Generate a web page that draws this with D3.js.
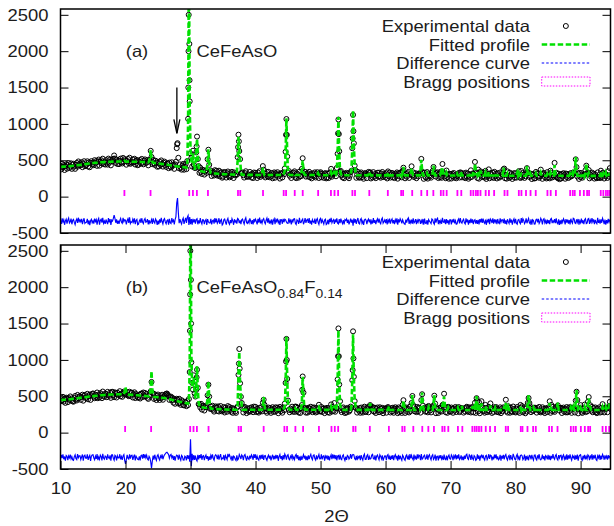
<!DOCTYPE html>
<html>
<head>
<meta charset="utf-8">
<script src="https://cdn.jsdelivr.net/npm/d3@7"></script>
<style>
  html, body { margin: 0; padding: 0; background: #fff; }
  svg { display: block; }
</style>
</head>
<body>
<script>
// ---- Rietveld refinement data: 2-theta sampled every 0.125 deg from 10.000 to 94.500 ----
// one line per degree (8 samples), last line 94.000 .. 94.500
const start2Theta = 10;
const step2Theta = 0.125;

const xTickValues = [10, 20, 30, 40, 50, 60, 70, 80, 90];
const yTickValues = [-500, 0, 500, 1000, 1500, 2000, 2500];
const diffOffset = -340;   // the difference curve is shifted down by this amount
const legendLabels = ["Experimental data", "Fitted profile", "Difference curve", "Bragg positions"];

// (a) CeFeAsO: fitted profile
const calcA = [
  410,411,411,412,412,413,414,414,
  415,416,417,418,420,421,422,424,
  425,427,428,430,431,433,434,436,
  437,439,440,442,444,445,447,448,
  450,452,453,455,456,458,459,461,
  462,463,464,465,466,467,468,469,
  470,471,472,473,474,474,475,476,
  477,477,478,478,479,479,480,480,
  481,481,481,482,482,482,482,483,
  483,483,483,483,483,483,483,493,
  482,482,482,482,481,481,481,481,
  480,480,480,479,479,479,478,478,
  478,477,477,476,476,476,475,475,
  474,474,473,473,472,486,531,640,
  522,481,465,464,462,461,460,459,
  457,455,454,452,451,449,448,446,
  445,443,441,440,438,436,434,432,
  430,428,426,424,423,421,419,417,
  415,414,413,412,410,409,408,406,
  405,403,400,398,435,990,3300,1250,
  635,502,459,596,452,369,426,583,
  790,557,405,355,353,350,348,346,
  342,340,338,336,375,483,651,459,
  357,325,324,323,322,320,319,317,
  316,315,314,314,313,312,311,310,
  309,309,308,308,307,307,306,306,
  305,305,304,304,304,303,303,303,
  302,332,502,822,652,501,361,301,
  300,300,300,300,300,300,300,299,
  299,299,299,299,299,299,299,298,
  298,298,298,298,298,298,298,297,
  317,397,332,297,297,297,297,297,
  297,297,297,297,297,297,297,297,
  297,297,297,297,297,297,297,297,
  297,297,297,317,357,597,1077,577,
  357,312,297,297,297,297,297,297,
  312,297,297,297,297,297,297,297,
  297,367,497,362,312,297,297,297,
  297,297,297,297,297,297,297,297,
  297,297,297,297,297,322,297,297,
  295,295,295,295,295,295,295,295,
  295,295,295,295,295,335,295,295,
  295,355,295,295,355,615,1095,595,
  365,315,295,295,295,295,295,295,
  294,294,294,294,294,294,374,644,
  1184,694,444,334,294,294,294,294,
  294,294,294,294,294,294,294,294,
  293,293,293,308,338,308,293,293,
  293,293,293,293,293,293,293,293,
  293,293,293,293,293,293,293,293,
  292,292,292,327,292,292,292,292,
  292,292,292,292,292,292,292,292,
  292,292,292,322,292,332,407,332,
  292,292,292,292,292,292,292,327,
  392,327,292,292,292,292,292,292,
  292,292,292,362,507,362,292,292,
  292,292,292,322,292,292,292,292,
  292,292,332,427,352,292,292,292,
  292,292,292,292,332,292,402,332,
  292,292,292,327,292,292,292,292,
  290,290,290,290,290,290,290,290,
  315,290,290,290,290,335,290,290,
  290,290,290,290,290,290,290,290,
  290,325,290,290,350,290,455,370,
  310,290,350,290,290,360,290,290,
  290,290,290,330,290,290,290,340,
  290,290,290,290,290,290,315,290,
  290,290,290,290,290,290,290,290,
  288,398,348,288,288,288,318,288,
  288,288,288,288,288,288,288,288,
  288,288,328,288,323,288,288,308,
  288,288,288,288,288,288,418,318,
  288,288,318,288,288,288,288,288,
  288,318,288,288,288,288,288,328,
  288,288,288,288,288,288,288,313,
  288,288,288,328,288,288,288,288,
  433,308,288,288,288,288,288,288,
  288,288,288,288,288,288,288,288,
  288,288,288,313,288,288,323,288,
  288,348,543,378,288,288,288,318,
  286,286,286,286,326,286,326,456,
  346,300,326,286,286,286,286,286,
  286,286,286,286,286,286,286,286,
  286,331,286,286,316,286,286,326,
  286,286,316,286,366
];
// (a) residual: observed minus fitted
const residA = [
  12,-35,40,-8,22,-47,5,31,
  -31,18,45,-22,-5,37,-40,14,
  27,-14,-46,9,33,-21,50,-3,
  20,-6,33,-37,11,42,-28,-15,
  -12,34,-40,15,-52,8,29,-19,
  6,-31,38,-3,24,-44,16,41,
  -44,11,29,-17,48,-26,3,-35,
  25,-9,-38,45,-13,30,-50,18,
  4,40,85,42,-19,27,-33,10,
  -36,13,40,-11,-27,49,-4,22,
  17,-43,8,36,-21,54,-30,-7,
  -15,31,-7,42,-38,12,26,-46,
  -39,5,26,-20,43,-9,-31,19,
  38,-12,-5,30,-42,16,-28,-10,
  24,-34,41,-6,-25,33,11,-48,
  9,-40,28,-16,47,-2,-35,21,
  37,-8,-32,11,20,-45,34,-18,
  -29,45,-3,17,-41,23,60,250,
  320,120,-24,32,-11,-38,19,44,
  -35,10,48,-20,55,80,-50,60,
  -40,30,-45,35,-15,28,-33,25,
  36,-40,15,-28,44,-9,-36,22,
  20,-37,10,26,-48,31,-6,-22,
  -22,34,-41,7,18,-30,45,-13,
  39,-26,-6,43,-34,12,27,-50,
  -34,22,31,-9,-45,16,40,-20,
  -40,18,-23,37,5,-47,29,-11,
  8,-30,40,30,-25,14,-38,21,
  32,-7,-38,24,49,-18,-29,6,
  -21,41,5,-36,17,-43,33,-2,
  29,-3,-42,34,-16,52,-27,9,
  -27,23,38,-8,-33,15,44,-19,
  43,-31,6,-24,28,-45,12,37,
  -37,26,-2,39,-20,8,-49,24,
  21,-33,35,-12,30,20,-10,-25,
  -28,40,-10,14,-41,27,-6,33,
  36,-25,-43,22,9,-36,47,-14,
  -16,15,31,-39,-8,44,-22,17,
  27,-22,44,-30,11,-46,23,-5,
  -19,37,-34,18,39,-12,-41,26,
  41,-28,23,-5,-37,19,30,-44,
  -32,19,-40,35,-9,47,-21,8,
  24,-36,28,-15,40,-26,-35,30,
  -23,38,-4,-31,16,-42,25,11,
  33,-20,25,-41,-7,39,-18,22,
  -60,40,-17,29,-35,13,46,-26,
  -35,22,39,-26,4,-48,18,31,
  16,-38,14,32,-14,27,-43,6,
  -29,44,-21,18,-39,9,35,-16,
  37,-16,-33,25,46,-24,-3,19,
  -24,30,-42,20,-11,38,-30,14,
  34,-27,17,-37,23,-8,41,-45,
  28,-15,36,13,-27,21,-9,-33,
  -40,23,-18,31,48,-35,10,-22,
  25,-32,41,-22,-6,30,-39,15,
  -14,27,20,-36,12,-20,33,-47,
  38,-23,-30,16,-44,25,2,-12,
  -31,34,22,-19,-40,43,-17,29,
  43,-37,18,-25,10,-33,47,-8,
  -17,29,-39,32,-24,15,-46,21,
  21,-41,26,-14,35,-28,8,-38,
  -33,17,35,-28,44,-10,-25,13,
  30,-20,-36,40,-15,26,-44,19,
  -25,37,-19,28,-38,10,22,-31,
  16,-34,22,-43,31,-13,39,-21,
  39,-12,-28,24,-47,18,-6,35,
  -38,31,15,-22,40,-33,26,-9,
  26,-40,33,-17,-29,42,-12,20,
  20,-24,38,-35,13,-41,29,-4,
  -30,42,-16,23,-45,8,34,-27,
  34,-27,-39,19,27,-15,-32,45,
  -21,36,14,-31,-8,40,-26,10,
  40,-18,-33,27,-46,22,11,-37,
  -36,22,30,-15,33,-29,-7,43,
  18,-43,25,37,-20,12,-38,24,
  -28,16,-37,29,41,-25,7,-13,
  31,-25,41,-20,-35,28,-48,15,
  -39,24,-13,35,11,-42,30,-18,
  23,-32,19,-41,36,-7,-27,44,
  36,-22,-30,28,-12,33,-45,9,
  -18,39,-26,15,-39,22,37,-30,
  -24,31,40,-35,18,-14,45,-6,
  28,-38,21,-16,-33,47,-21,12,
  -31,26,-19,42,9,-37,25,-44,
  17,-29,34,-10,26
];
// (a) additional fine-step points across the strongest reflections
const extraObsA = [
  [27.94,720],
  [29.66,1500],[29.69,2000],[29.72,2500],[29.79,2700],[29.82,2100],[29.85,1600],
  [30.9375,690],[37.3125,680],[37.4375,760],
  [44.6875,850],[44.8125,850],[52.6875,870],[52.8125,860],
  [54.9375,800],[55.0625,900]
];
const braggA = [
  19.83, 23.85, 29.8, 30.37, 30.98, 32.68, 37.3, 37.65, 41.15, 44.33, 44.7, 46.03, 47.26,
  49.63, 51.6, 52.15, 52.7, 54.9, 55.3, 57.5, 60.35, 62.4, 62.7, 64.1, 65.5, 66.4, 67.35,
  68.5, 68.9, 69.4, 71.05, 71.65, 73.1, 73.5, 73.9, 74.2, 74.6, 75.4, 75.9, 76.7, 78.3,
  78.75, 80.5, 80.9, 81.6, 82.3, 83.1, 84.9, 85.4, 86.2, 88.4, 88.8, 89.1, 89.9, 90.5,
  91.0, 91.3, 93.1, 93.5, 93.9, 94.2, 94.5
];

// (b) CeFeAsO0.84F0.14: fitted profile
const calcB = [
  448,449,450,451,452,452,453,454,
  455,456,457,459,460,461,462,464,
  465,467,468,470,471,473,475,476,
  478,480,481,483,484,486,487,489,
  490,492,493,495,496,498,499,501,
  502,503,505,506,507,508,510,511,
  512,513,514,515,516,517,518,519,
  520,521,521,522,522,523,524,524,
  525,525,526,526,526,526,527,527,
  527,527,527,527,527,527,527,562,
  630,555,525,524,523,522,522,521,
  520,519,518,517,516,515,514,513,
  512,511,510,509,509,508,507,506,
  505,504,503,502,501,500,519,628,
  847,596,515,495,492,491,490,488,
  487,486,484,483,481,480,478,477,
  475,473,470,468,465,463,460,458,
  455,452,449,446,444,441,438,435,
  432,430,427,425,422,420,417,415,
  412,409,407,404,401,398,435,893,
  3390,1087,634,631,758,575,471,618,
  915,582,420,357,355,352,350,347,
  345,343,342,340,368,496,705,484,
  362,331,330,329,328,327,326,325,
  324,323,323,322,322,321,321,320,
  319,319,318,318,318,317,317,317,
  316,316,316,316,316,315,315,315,
  315,315,395,815,1110,665,515,375,
  314,314,314,314,314,314,314,314,
  314,314,314,314,314,314,314,314,
  314,314,314,314,314,314,314,314,
  314,374,489,364,314,314,314,314,
  314,314,314,314,314,314,314,314,
  314,314,314,314,314,314,314,314,
  314,314,314,334,354,664,1319,714,
  404,334,314,314,314,314,314,314,
  314,334,314,314,314,314,314,314,
  314,414,769,514,354,314,314,314,
  314,314,314,314,314,314,314,314,
  314,314,314,314,314,314,344,314,
  313,313,313,313,313,313,313,313,
  313,313,313,313,313,353,313,313,
  313,373,313,313,373,713,1408,693,
  393,333,313,313,313,313,313,313,
  313,313,313,313,313,313,363,693,
  1353,733,453,373,313,313,313,313,
  313,313,313,313,313,313,313,313,
  313,313,313,313,343,403,343,313,
  313,313,313,313,313,313,313,313,
  313,313,313,313,313,313,313,313,
  312,312,312,312,357,312,312,312,
  312,312,312,312,312,312,312,312,
  312,312,312,312,312,352,437,372,
  312,312,312,312,312,312,312,312,
  382,517,412,312,312,312,312,312,
  312,312,312,312,402,552,382,312,
  312,312,312,312,312,347,312,312,
  312,312,312,402,517,362,312,312,
  312,312,312,312,312,312,372,422,
  497,372,312,312,312,342,312,312,
  312,312,312,312,312,312,312,312,
  312,342,312,312,312,312,367,312,
  312,312,312,312,312,312,312,312,
  312,312,312,362,312,312,402,312,
  502,392,312,392,312,312,402,312,
  312,312,312,362,312,312,312,312,
  312,372,312,312,312,312,312,342,
  312,312,312,312,312,312,312,312,
  312,312,362,312,412,312,312,352,
  312,312,312,312,312,312,312,312,
  311,311,311,311,311,311,356,311,
  341,311,311,311,311,311,311,401,
  516,381,311,311,311,311,341,311,
  311,341,311,311,311,311,311,311,
  311,311,311,311,311,311,311,311,
  311,361,406,311,361,311,311,311,
  311,311,311,351,411,311,311,311,
  311,311,311,311,311,311,311,311,
  311,311,311,311,346,311,311,351,
  311,311,411,586,411,311,311,311,
  341,311,311,311,311,351,311,311,
  311,391,471,371,351,311,311,311,
  311,311,311,311,311,311,311,311,
  311,311,311,351,311,311,311,351,
  311,311,311,371,401
];
// (b) residual: observed minus fitted
const residB = [
  -18,34,-9,41,-26,12,-44,27,
  15,-37,20,-6,38,-21,9,-33,
  -40,11,36,-14,-29,46,-3,22,
  22,-29,7,39,-45,18,31,-12,
  -11,42,-35,4,27,-48,15,33,
  37,-8,-32,16,-20,44,-37,6,
  -26,31,13,-41,49,-9,-24,18,
  9,-34,40,-3,-17,28,-46,35,
  36,-12,-38,28,14,-43,22,-7,
  -7,43,-27,10,-35,19,38,-40,
  -90,-30,34,-10,-22,40,-16,27,
  29,-36,8,38,-41,15,-6,-28,
  -32,12,-41,25,30,-18,45,-9,
  40,-6,30,-23,-37,14,-8,-60,
  -150,-50,23,-31,36,-14,-42,19,
  37,-12,-35,19,-4,41,-26,11,
  35,50,65,70,55,40,-10,28,
  40,-5,28,-34,17,-44,9,31,
  21,-30,39,-13,-40,26,12,-35,
  -38,16,5,-40,32,-19,28,-60,
  250,-120,50,-40,30,-35,25,-30,
  -50,35,-28,30,-9,44,-33,16,
  23,-39,8,32,-21,17,-45,12,
  -34,27,-6,41,-15,-38,20,36,
  20,-25,38,-32,9,45,-27,-11,
  -19,33,-41,24,-3,-30,48,14,
  36,-4,-30,22,-44,17,6,-25,
  -43,28,-35,-20,40,14,-22,33,
  17,-37,26,39,-8,-46,21,-14,
  -29,23,-18,34,11,-33,44,-6,
  40,-31,15,-24,-39,27,-10,35,
  -22,38,-36,19,25,-17,-41,8,
  31,-17,24,-42,3,36,-28,20,
  -26,35,-13,29,-47,12,40,-19,
  18,-40,32,-27,45,20,-30,25,
  37,-21,-34,16,-9,43,-25,4,
  -30,25,41,-18,30,-37,11,-44,
  22,-35,3,36,-16,24,-39,13,
  -39,29,-23,17,42,-11,-33,26,
  33,-16,-37,26,-28,8,39,-21,
  -20,40,-29,14,23,-45,16,-8,
  28,-33,21,-41,7,35,-24,40,
  -15,34,-26,30,-40,18,25,-30,
  39,-22,-31,19,34,-13,-43,10,
  -36,27,16,-24,-6,45,-19,28,
  40,35,-19,-30,21,-38,12,-9,
  24,-40,32,-13,-37,22,44,-27,
  -27,21,37,-34,10,-24,-15,31,
  41,-18,-25,29,-43,16,33,-2,
  -32,36,14,-21,28,-46,-8,20,
  19,-38,27,40,-26,11,-35,23,
  -23,31,-39,16,37,-12,21,-44,
  35,-29,22,-17,-41,30,9,-26,
  -41,18,33,-26,12,-35,46,-15,
  26,-13,-35,38,-20,8,-30,42,
  -19,32,23,-37,45,-24,-11,17,
  30,-24,-16,41,-33,20,37,-7,
  -34,20,36,-28,-9,39,-45,14,
  17,-42,28,-15,31,-22,6,-36,
  38,-21,-31,25,-40,13,32,-18,
  -25,34,13,-39,20,-8,41,-29,
  29,-18,40,-30,-13,27,-37,10,
  -37,24,-22,32,44,-16,-28,35,
  21,-35,37,-14,-33,23,9,-41,
  -28,41,-20,26,-45,15,30,-12,
  34,-16,-38,19,28,-31,-5,43,
  -22,30,24,-41,11,-27,38,-9,
  40,-27,15,-33,-19,36,-44,22,
  -18,36,-29,22,40,-14,-36,11,
  27,-39,31,-16,-30,47,13,-25,
  -34,18,42,-24,7,-40,25,33,
  23,-31,-13,37,-45,19,-22,8,
  -40,26,20,-29,35,-11,-38,30,
  32,-19,-36,28,-6,43,-21,-33,
  -15,38,-23,17,-42,24,10,-28,
  35,-30,25,-38,20,-15,44,-10,
  -26,21,39,-20,-37,31,-8,26,
  30,-41,16,34,-24,9,-33,41,
  -32,27,-17,40,-11,-39,22,-6,
  19,-34,29,-23,37,-46,14,30,
  37,-25,-40,22,-14,35,-29,12,
  -21,33,18,-37,25,-10,43,-31,
  28,-14,36,-29,-43,21,-8,37,
  -35,24,-26,41,16,-33,28,-12,
  16,-31,30,-8,23
];
// (b) additional fine-step points across the strongest reflections
const extraObsB = [
  [29.91,1400],[29.94,1900],[29.97,2500],[30.03,2800],[30.06,2100],[30.09,1500],
  [30.9375,760],[37.4375,950],[37.5625,880],[47.1875,590],
  [44.6875,980],[44.8125,1000],[52.6875,1050],[52.8125,1050],
  [54.9375,860],[55.0625,1020]
];
const braggB = [
  19.94, 23.94, 29.95, 30.46, 30.98, 32.77, 37.40, 37.77, 41.25, 44.44, 44.85, 46.13, 47.32,
  49.75, 51.68, 52.19, 52.71, 55.02, 55.38, 57.58, 60.51, 62.57, 62.93, 64.27, 65.65, 66.58,
  67.44, 68.73, 69.08, 69.65, 71.13, 71.81, 73.35, 73.71, 74.02, 74.37, 74.74, 75.41, 76.07,
  76.84, 78.49, 78.85, 80.80, 81.06, 81.83, 82.70, 83.11, 85.16, 85.58, 86.45, 88.50, 88.91,
  89.27, 90.04, 90.65, 91.16, 91.47, 93.38, 93.89, 94.40
];

// ---- drawing ----
const W = 614, H = 526;
const FONT = "'Liberation Sans', Arial, Helvetica, sans-serif";
const FS = 16.3;        // label font size
const SX = 1.13;        // horizontal stretch of the lettering
const INK = "#1c1c1c";
const GREEN = "#00e000", BLUE = "#0000ff", MAGENTA = "#ff00ff";
const DOT_R = 2.5;

const svg = d3.select("body").append("svg").attr("width", W).attr("height", H);

const x = d3.scaleLinear().domain([10, 94.6]).range([60.5, 610.5]);

// widen glyphs horizontally while keeping the anchor point
function stretchText(sel) {
  sel.each(function () {
    const t = d3.select(this);
    const x0 = +(t.attr("x") || 0);
    t.attr("x", x0 / SX).attr("transform", `scale(${SX},1)`);
  });
}
function label(parent, str, px, py, anchor, size) {
  return parent.append("text")
    .attr("transform", `translate(${px},${py}) scale(${SX},1)`)
    .attr("text-anchor", anchor || "start")
    .attr("font-family", FONT).attr("font-size", size || FS)
    .attr("fill", INK).text(str);
}

const panels = [
  { top: 9, bottom: 233, calc: calcA, resid: residA, extra: extraObsA, bragg: braggA,
    tag: "(a)", formula: [["CeFeAsO", false]], arrow: [27.9, 1500, 870], xAxis: false },
  { top: 245, bottom: 469, calc: calcB, resid: residB, extra: extraObsB, bragg: braggB,
    tag: "(b)", formula: [["CeFeAsO", false], ["0.84", true], ["F", false], ["0.14", true]],
    arrow: null, xAxis: true }
];

panels.forEach((p, k) => {
  const y = d3.scaleLinear().domain([-500, 2580]).range([p.bottom, p.top]);
  const [x0, x1] = x.range();

  const clipId = "plotClip" + k;
  svg.append("clipPath").attr("id", clipId).append("rect")
    .attr("x", x0).attr("y", p.top).attr("width", x1 - x0).attr("height", p.bottom - p.top);

  const rows = p.calc.map((c, i) => ({
    t: start2Theta + i * step2Theta,
    calc: c,
    obs: c + p.resid[i],
    diff: p.resid[i] + diffOffset
  }));
  const obsPoints = rows.map(r => [r.t, r.obs]).concat(p.extra);

  const plot = svg.append("g").attr("clip-path", `url(#${clipId})`);

  // experimental data: open circles
  plot.append("g").selectAll("circle").data(obsPoints).join("circle")
    .attr("cx", d => x(d[0])).attr("cy", d => y(d[1])).attr("r", DOT_R)
    .attr("fill", "none").attr("stroke", "#000").attr("stroke-width", 1);

  // fitted profile
  plot.append("path").datum(rows)
    .attr("d", d3.line().x(d => x(d.t)).y(d => y(d.calc)))
    .attr("fill", "none").attr("stroke", GREEN).attr("stroke-width", 2.6)
    .attr("stroke-dasharray", "5.5,2.5");

  // difference curve
  plot.append("path").datum(rows)
    .attr("d", d3.line().x(d => x(d.t)).y(d => y(d.diff)))
    .attr("fill", "none").attr("stroke", BLUE).attr("stroke-width", 1.15);

  // Bragg reflection markers
  plot.append("g").selectAll("line").data(p.bragg).join("line")
    .attr("x1", d => x(d)).attr("x2", d => x(d))
    .attr("y1", y(10)).attr("y2", y(92))
    .attr("stroke", MAGENTA).attr("stroke-width", 1.8);

  // axes (ticks point inward)
  const fmt = d => String(d);
  const left = svg.append("g").attr("transform", `translate(${x0},0)`)
    .call(d3.axisLeft(y).tickValues(yTickValues).tickFormat(fmt)
      .tickSizeInner(-8).tickSizeOuter(0).tickPadding(12));
  const right = svg.append("g").attr("transform", `translate(${x1},0)`)
    .call(d3.axisRight(y).tickValues(yTickValues).tickSizeInner(-8).tickSizeOuter(0).tickFormat(""));
  const axes = [left, right];
  if (p.xAxis) {
    const bottom = svg.append("g").attr("transform", `translate(0,${p.bottom})`)
      .call(d3.axisBottom(x).tickValues(xTickValues).tickFormat(fmt)
        .tickSizeInner(-8).tickSizeOuter(0).tickPadding(13));
    const topAx = svg.append("g").attr("transform", `translate(0,${p.top})`)
      .call(d3.axisTop(x).tickValues(xTickValues).tickSizeInner(-8).tickSizeOuter(0).tickFormat(""));
    axes.push(bottom, topAx);
  }
  axes.forEach(a => {
    a.select(".domain").remove();
    a.selectAll(".tick line").attr("stroke", "#000").attr("stroke-width", 1);
    a.selectAll("text").attr("font-family", FONT).attr("font-size", FS).attr("fill", INK);
    stretchText(a.selectAll("text"));
  });

  // frame
  svg.append("rect").attr("x", x0).attr("y", p.top)
    .attr("width", x1 - x0).attr("height", p.bottom - p.top)
    .attr("fill", "none").attr("stroke", "#000").attr("stroke-width", 1.5);

  // panel tag and compound name
  label(svg, p.tag, 137, p.top + 47.5, "middle");
  const name = svg.append("text")
    .attr("transform", `translate(196.5,${p.top + 47.5}) scale(${SX},1)`)
    .attr("font-family", FONT).attr("font-size", FS).attr("fill", INK);
  p.formula.forEach(([s, sub], i) => {
    const prevSub = i > 0 && p.formula[i - 1][1];
    name.append("tspan")
      .attr("font-size", sub ? 12.3 : FS)
      .attr("dy", sub ? 5 : (prevSub ? -5 : 0))
      .text(s);
  });

  // arrow marking the impurity reflection
  if (p.arrow) {
    const [at, yFrom, yTo] = p.arrow;
    const ax = x(at), ya = y(yFrom), yb = y(yTo);
    svg.append("line").attr("x1", ax).attr("x2", ax).attr("y1", ya).attr("y2", yb)
      .attr("stroke", "#000").attr("stroke-width", 1.3);
    svg.append("path").attr("d", `M${ax - 3},${yb - 14}L${ax},${yb}L${ax + 3},${yb - 14}`)
      .attr("fill", "none").attr("stroke", "#000").attr("stroke-width", 1.3);
  }

  // legend
  const lg = svg.append("g");
  const base = [23, 41.5, 60, 78.5].map(v => p.top + v);
  legendLabels.forEach((s, i) => label(lg, s, 530, base[i], "end"));
  const sx0 = 541.7, sx1 = 590;
  lg.append("circle").attr("cx", (sx0 + sx1) / 2).attr("cy", base[0] - 6).attr("r", DOT_R)
    .attr("fill", "none").attr("stroke", "#000").attr("stroke-width", 1);
  lg.append("line").attr("x1", sx0).attr("x2", sx1).attr("y1", base[1] - 6).attr("y2", base[1] - 6)
    .attr("stroke", GREEN).attr("stroke-width", 2.6).attr("stroke-dasharray", "5.5,2.5");
  lg.append("line").attr("x1", sx0).attr("x2", sx1).attr("y1", base[2] - 6).attr("y2", base[2] - 6)
    .attr("stroke", BLUE).attr("stroke-width", 1.2).attr("stroke-dasharray", "2.5,2");
  lg.append("rect").attr("x", sx0).attr("y", base[3] - 10.5).attr("width", sx1 - sx0).attr("height", 9)
    .attr("fill", "none").attr("stroke", MAGENTA).attr("stroke-width", 1).attr("stroke-dasharray", "1.5,1.5");
});

// x-axis title
label(svg, "2\u0398", 336.5, 521.5, "middle");
</script>
</body>
</html>
